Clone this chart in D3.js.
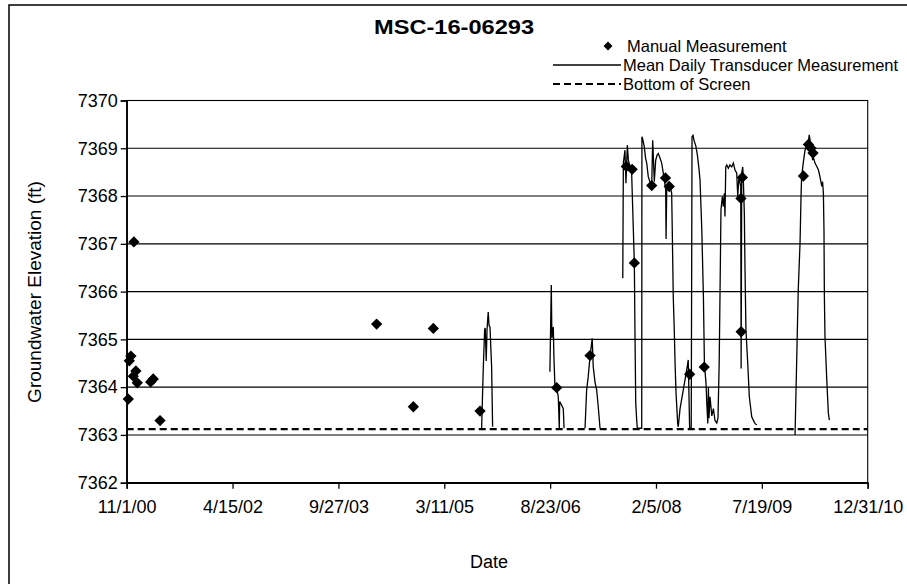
<!DOCTYPE html>
<html><head><meta charset="utf-8">
<script src="https://cdn.jsdelivr.net/npm/d3@7"></script>
<style>body{margin:0;background:#fff}svg{display:block}text{font-family:Arial,"Liberation Sans",sans-serif;fill:#000}</style>
</head><body><svg id="c" width="907" height="584"></svg>
<script>
const title = "MSC-16-06293";
const yTicks = [7362,7363,7364,7365,7366,7367,7368,7369,7370];
const xTickLabels = ["11/1/00","4/15/02","9/27/03","3/11/05","8/23/06","2/5/08","7/19/09","12/31/10"];
const xDomain = ["2000-11-01","2010-12-31"];
const bottomOfScreen = 7363.12;

const manualDates = ["2000-11-09","2000-11-14","2000-11-22","2000-12-04","2000-12-07","2000-12-17","2000-12-24","2001-03-01","2001-03-14","2001-04-17","2004-04-06","2004-10-07","2005-01-15","2005-09-06","2006-09-25","2007-03-11","2007-09-09","2007-10-08","2007-10-19","2008-01-14","2008-03-23","2008-04-11","2008-07-22","2008-10-03","2009-04-05","2009-04-06","2009-04-12","2010-02-12","2010-03-09","2010-03-22","2010-04-01"];
const manualValues = [7363.75,7364.55,7364.65,7364.23,7367.04,7364.34,7364.09,7364.11,7364.17,7363.30,7365.32,7363.59,7365.23,7363.50,7363.99,7364.66,7368.62,7368.56,7366.60,7368.22,7368.38,7368.20,7364.27,7364.42,7367.95,7365.16,7368.39,7368.42,7369.08,7369.00,7368.90];

const transducer2005 = [["2005-09-14",7363.14],["2005-09-22",7364.36],["2005-09-29",7365.20],["2005-10-02",7365.24],["2005-10-07",7364.55],["2005-10-11",7365.20],["2005-10-17",7365.57],["2005-10-21",7365.30],["2005-10-26",7365.25],["2005-11-03",7364.43],["2005-11-08",7363.17]];
const transducer2006 = [["2006-08-22",7364.32],["2006-08-29",7366.14],["2006-09-01",7365.03],["2006-09-08",7365.26],["2006-09-11",7364.65],["2006-09-16",7364.04],["2006-09-25",7363.98],["2006-10-03",7363.80],["2006-10-08",7363.14],["2006-10-10",7363.70],["2006-10-20",7363.62],["2006-10-28",7363.55],["2006-11-01",7363.14]];
const transducer2007 = [["2007-02-14",7363.14],["2007-02-22",7363.94],["2007-03-02",7364.22],["2007-03-11",7364.64],["2007-03-19",7364.92],["2007-03-22",7365.02],["2007-03-27",7364.43],["2007-04-05",7364.10],["2007-04-13",7363.95],["2007-04-21",7363.60],["2007-04-30",7363.14]];
const transducer2007to2009 = [["2007-08-22",7366.28],["2007-08-25",7368.69],["2007-09-02",7368.96],["2007-09-07",7368.27],["2007-09-14",7369.07],["2007-09-19",7368.75],["2007-09-27",7368.62],["2007-10-05",7368.55],["2007-10-09",7367.99],["2007-10-14",7367.29],["2007-10-19",7366.60],["2007-10-22",7365.20],["2007-10-26",7363.66],["2007-10-31",7363.30],["2007-11-03",7363.14],["2007-11-25",7363.14],["2007-11-26",7369.24],["2007-11-29",7369.21],["2007-12-08",7369.03],["2007-12-14",7368.80],["2007-12-20",7368.69],["2007-12-28",7368.40],["2008-01-05",7368.30],["2008-01-14",7368.22],["2008-01-19",7369.17],["2008-01-27",7368.30],["2008-02-03",7368.75],["2008-02-10",7368.86],["2008-02-16",7368.89],["2008-02-25",7368.79],["2008-03-04",7368.69],["2008-03-12",7368.48],["2008-03-17",7368.34],["2008-03-24",7368.13],["2008-03-26",7367.10],["2008-03-29",7368.10],["2008-04-06",7368.27],["2008-04-15",7368.20],["2008-04-23",7368.06],["2008-04-26",7367.29],["2008-05-01",7365.89],["2008-05-06",7365.20],["2008-05-10",7364.50],["2008-05-15",7363.87],["2008-05-23",7363.24],["2008-05-26",7363.17],["2008-06-04",7363.55],["2008-06-20",7363.94],["2008-07-10",7364.43],["2008-07-15",7364.57],["2008-07-22",7363.14],["2008-07-30",7363.14],["2008-08-03",7369.24],["2008-08-08",7369.27],["2008-08-14",7369.15],["2008-08-22",7369.05],["2008-08-30",7368.85],["2008-09-06",7368.60],["2008-09-12",7368.34],["2008-09-21",7367.29],["2008-09-29",7365.89],["2008-10-04",7364.50],["2008-10-12",7364.08],["2008-10-16",7363.66],["2008-10-21",7363.24],["2008-10-24",7364.00],["2008-10-27",7363.35],["2008-11-01",7363.80],["2008-11-10",7363.40],["2008-11-18",7363.55],["2008-11-26",7363.30],["2008-12-05",7363.25],["2008-12-11",7363.35],["2008-12-17",7364.50],["2008-12-21",7365.89],["2008-12-26",7367.71],["2009-01-02",7367.99],["2009-01-07",7367.78],["2009-01-12",7368.06],["2009-01-15",7367.57],["2009-01-19",7368.61],["2009-01-24",7368.65],["2009-02-01",7368.58],["2009-02-09",7368.65],["2009-02-18",7368.61],["2009-02-26",7368.69],["2009-03-06",7368.55],["2009-03-15",7368.48],["2009-03-20",7367.99],["2009-03-26",7368.40],["2009-04-04",7368.20],["2009-04-06",7364.39],["2009-04-09",7368.48],["2009-04-14",7368.61],["2009-04-17",7368.34],["2009-04-22",7367.64],["2009-04-25",7366.59],["2009-04-30",7365.20],["2009-05-09",7364.50],["2009-05-17",7363.80],["2009-05-29",7363.38],["2009-06-06",7363.31],["2009-06-14",7363.24],["2009-06-23",7363.21]];
const transducer2010 = [["2010-01-01",7363.00],["2010-01-09",7364.50],["2010-01-17",7366.03],["2010-01-26",7367.01],["2010-01-31",7367.99],["2010-02-03",7368.40],["2010-02-11",7368.69],["2010-02-20",7368.96],["2010-02-28",7369.07],["2010-03-07",7369.05],["2010-03-13",7369.28],["2010-03-20",7369.10],["2010-03-25",7368.96],["2010-03-30",7368.75],["2010-04-02",7368.82],["2010-04-11",7368.69],["2010-04-20",7368.62],["2010-04-28",7368.55],["2010-05-06",7368.40],["2010-05-15",7368.20],["2010-05-19",7368.30],["2010-05-23",7368.06],["2010-05-26",7367.29],["2010-05-28",7365.89],["2010-05-31",7365.06],["2010-06-09",7364.15],["2010-06-17",7363.45],["2010-06-22",7363.31]];
const transducerSegments = [transducer2005, transducer2006, transducer2007, transducer2007to2009, transducer2010];

const parse = d3.timeParse("%Y-%m-%d");
const svg = d3.select("#c");
const L = 126.7, R = 867.7, T = 100.5, B = 482.7;
const d0 = parse(xDomain[0]), d1 = parse(xDomain[1]);
const x = d3.scaleTime().domain([d0, d1]).range([L, R]);
const y = d3.scaleLinear().domain([7362, 7370]).range([B, T]);

// outer chart border
svg.append("rect").attr("x", 9).attr("y", 5).attr("width", 1000).attr("height", 1000)
  .attr("fill", "none").attr("stroke", "#000").attr("stroke-width", 1.5);

// gridlines
svg.append("g").selectAll("line").data(yTicks).join("line")
  .attr("x1", L).attr("x2", R).attr("y1", d => y(d)).attr("y2", d => y(d))
  .attr("stroke", "#000").attr("stroke-width", 1.1);
// plot border
svg.append("rect").attr("x", L).attr("y", T).attr("width", R - L).attr("height", B - T)
  .attr("fill", "none").attr("stroke", "#000").attr("stroke-width", 1.1);

// axes
const xTickVals = d3.range(xTickLabels.length).map(i => new Date(+d0 + i * (d1 - d0) / (xTickLabels.length - 1)));
const xAxis = d3.axisBottom(x).tickValues(xTickVals).tickFormat((d, i) => xTickLabels[i]).tickSize(6).tickPadding(12);
const gx = svg.append("g").attr("transform", `translate(0,${B})`).call(xAxis);
gx.select(".domain").attr("stroke", "#000").attr("stroke-width", 1.5);
gx.selectAll(".tick line").attr("stroke", "#000").attr("stroke-width", 1.3);
gx.selectAll("text").style("font-size", "18px").attr("font-family", "Arial, 'Liberation Sans', sans-serif");

const yAxis = d3.axisLeft(y).tickValues(yTicks).tickFormat(d3.format("d")).tickSize(6).tickPadding(3);
const gy = svg.append("g").attr("transform", `translate(${L},0)`).call(yAxis);
gy.select(".domain").attr("stroke", "#000").attr("stroke-width", 1.5);
gy.selectAll(".tick line").attr("stroke", "#000").attr("stroke-width", 1.3);
gy.selectAll("text").style("font-size", "18px").attr("font-family", "Arial, 'Liberation Sans', sans-serif");

// bottom of screen
svg.append("line").attr("x1", L).attr("x2", R).attr("y1", y(bottomOfScreen)).attr("y2", y(bottomOfScreen))
  .attr("stroke", "#000").attr("stroke-width", 2.2).attr("stroke-dasharray", "7,4");

// transducer line
const line = d3.line().x(d => x(parse(d[0]))).y(d => y(d[1]));
svg.append("g").selectAll("path").data(transducerSegments).join("path")
  .attr("d", line).attr("fill", "none").attr("stroke", "#000").attr("stroke-width", 1.3);

// manual measurements
const diamond = d3.symbol().type(d3.symbolSquare).size(64);
svg.append("g").selectAll("path").data(manualDates.map((d, i) => [d, manualValues[i]])).join("path")
  .attr("d", diamond)
  .attr("transform", d => `translate(${x(parse(d[0]))},${y(d[1])}) rotate(45)`)
  .attr("fill", "#000");

// title
svg.append("text").attr("x", 454).attr("y", 34).attr("text-anchor", "middle")
  .attr("textLength", 160).attr("lengthAdjust", "spacingAndGlyphs")
  .style("font-size", "21px").style("font-weight", "bold").text(title);

// legend
const lg = svg.append("g");
lg.append("path").attr("d", d3.symbol().type(d3.symbolSquare).size(40)).attr("transform", "translate(608,46) rotate(45)");
lg.append("text").attr("x", 627).attr("y", 51.5).style("font-size", "16.5px").text("Manual Measurement");
lg.append("line").attr("x1", 553).attr("x2", 621).attr("y1", 65).attr("y2", 65).attr("stroke", "#000").attr("stroke-width", 1.3);
lg.append("text").attr("x", 623).attr("y", 70.5).style("font-size", "16.5px").text("Mean Daily Transducer Measurement");
lg.append("line").attr("x1", 553).attr("x2", 621).attr("y1", 84).attr("y2", 84).attr("stroke", "#000").attr("stroke-width", 2.2).attr("stroke-dasharray", "7,4");
lg.append("text").attr("x", 623).attr("y", 89.5).style("font-size", "16.5px").text("Bottom of Screen");

// axis titles
svg.append("text").attr("x", 489).attr("y", 568).attr("text-anchor", "middle").style("font-size", "18px").text("Date");
svg.append("text").attr("transform", "translate(41,292) rotate(-90)").attr("text-anchor", "middle").style("font-size", "19px").text("Groundwater Elevation (ft)");
</script></body></html>
